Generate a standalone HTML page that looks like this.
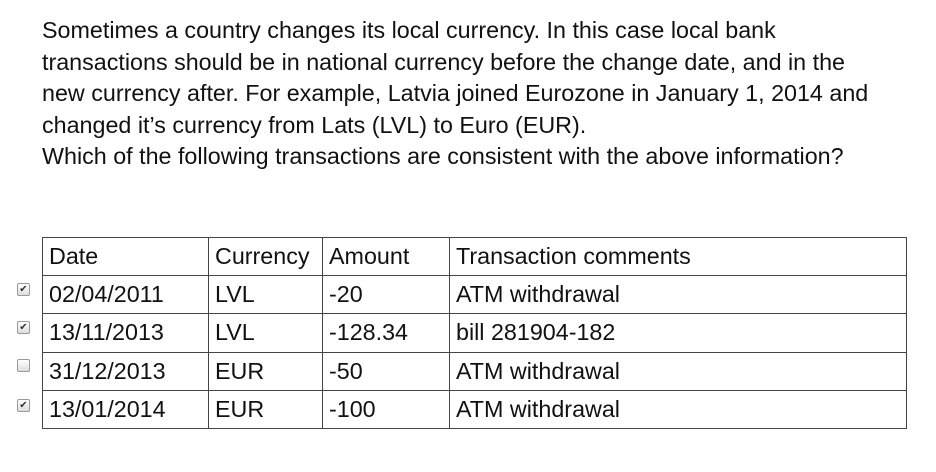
<!DOCTYPE html>
<html><head><meta charset="utf-8"><style>
html,body{margin:0;padding:0;background:#fff;}
body{width:936px;height:472px;position:relative;overflow:hidden;font-family:"Liberation Sans",Arial,sans-serif;color:#111;}
.p{position:absolute;left:42px;top:15px;font-size:23.3px;line-height:31.6px;margin:0;white-space:nowrap;}
table{position:absolute;left:42px;top:237px;border-collapse:collapse;font-size:23.3px;}
td{border:1px solid #444;height:38.2px;padding:0 0 0 6px;vertical-align:middle;box-sizing:border-box;white-space:nowrap;}
.cb{position:absolute;left:17px;width:11px;height:11px;border:1px solid #999;border-radius:2px;background:linear-gradient(#fff,#ddd);font-size:10px;line-height:11px;text-align:center;color:#333;}
</style></head><body>
<p class="p">Sometimes a country changes its local currency. In this case local bank<br>transactions should be in national currency before the change date, and in the<br>new currency after. For example, Latvia joined Eurozone in January 1, 2014 and<br>changed it’s currency from Lats (LVL) to Euro (EUR).<br>Which of the following transactions are consistent with the above information?</p>
<table>
<tr><td style="width:166px;max-width:166px">Date</td><td style="width:114px;max-width:114px">Currency</td><td style="width:127px;max-width:127px">Amount</td><td style="width:457px">Transaction comments</td></tr>
<tr><td>02/04/2011</td><td>LVL</td><td>-20</td><td>ATM withdrawal</td></tr>
<tr><td>13/11/2013</td><td>LVL</td><td>-128.34</td><td>bill 281904-182</td></tr>
<tr><td>31/12/2013</td><td>EUR</td><td>-50</td><td>ATM withdrawal</td></tr>
<tr><td>13/01/2014</td><td>EUR</td><td>-100</td><td>ATM withdrawal</td></tr>
</table>
<div class="cb" style="top:283px">✔</div>
<div class="cb" style="top:321px">✔</div>
<div class="cb" style="top:359px"></div>
<div class="cb" style="top:399px">✔</div>
</body></html>
